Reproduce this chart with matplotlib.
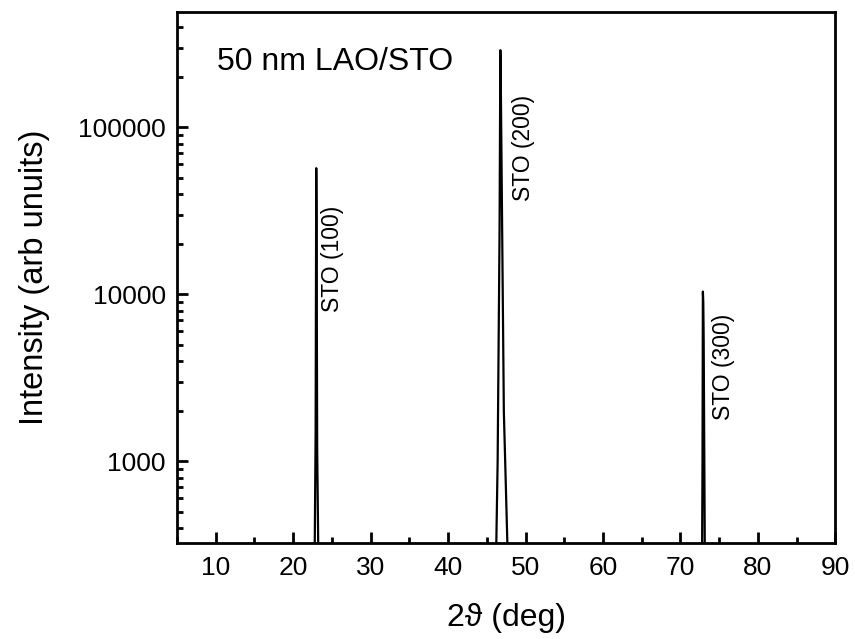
import matplotlib
matplotlib.use("Agg")
import matplotlib.pyplot as plt
from matplotlib.ticker import FixedLocator, LogLocator, NullFormatter

plt.rcParams["font.family"] = ["Liberation Sans", "DejaVu Sans"]

# diffraction scan (baseline sits below the visible range)
two_theta = [5.0, 22.7, 22.9, 22.98, 23.02, 23.1, 23.35,
             46.05, 46.4, 46.65, 46.75, 46.82, 47.2, 47.95,
             72.75, 72.85, 72.9, 72.95, 73.0, 73.2, 90.0]
intensity = [100, 100, 1500, 57000, 30000, 1200, 100,
             100, 1000, 25000, 290000, 160000, 2000, 100,
             100, 1000, 10400, 9000, 5500, 100, 100]

peak_labels = ["STO (100)", "STO (200)", "STO (300)"]
label_x = [25.1, 49.8, 75.6]
label_y = [7800, 36500, 1760]

x_ticks = [10, 20, 30, 40, 50, 60, 70, 80, 90]
x_minor = [5, 15, 25, 35, 45, 55, 65, 75, 85]
y_ticks = [1000, 10000, 100000]
y_ticklabels = ["1000", "10000", "100000"]


def draw():
    fig = plt.figure(figsize=(8.55, 6.39), dpi=100)
    ax = fig.add_axes([0.207, 0.150, 0.770, 0.831])

    ax.plot(two_theta, intensity, color="black", linewidth=1.6)
    ax.set_yscale("log")
    ax.set_xlim(5, 90)
    ax.set_ylim(324, 490000)

    ax.set_xticks(x_ticks)
    ax.xaxis.set_minor_locator(FixedLocator(x_minor))
    ax.set_yticks(y_ticks)
    ax.set_yticklabels(y_ticklabels)
    ax.yaxis.set_minor_locator(LogLocator(base=10, subs=range(2, 10)))
    ax.yaxis.set_minor_formatter(NullFormatter())

    ax.tick_params(which="both", direction="in", width=2, labelsize=19,
                   top=False, right=False)
    ax.tick_params(which="major", length=8, pad=8)
    ax.tick_params(axis="x", which="major", pad=9)
    ax.tick_params(which="minor", length=4)
    for spine in ax.spines.values():
        spine.set_linewidth(2)

    ax.set_xlabel("2ϑ (deg)", fontsize=23, labelpad=17)
    ax.set_ylabel("Intensity (arb unuits)", fontsize=23.5, labelpad=20)

    ax.text(0.061, 0.906, "50 nm LAO/STO", transform=ax.transAxes,
            fontsize=23, va="center", ha="left")
    for text, x, y in zip(peak_labels, label_x, label_y):
        ax.text(x, y, text, rotation=90, fontsize=16.5, ha="center", va="bottom")

    fig.savefig("out.png", dpi=100)


if __name__ == "__main__":
    draw()
